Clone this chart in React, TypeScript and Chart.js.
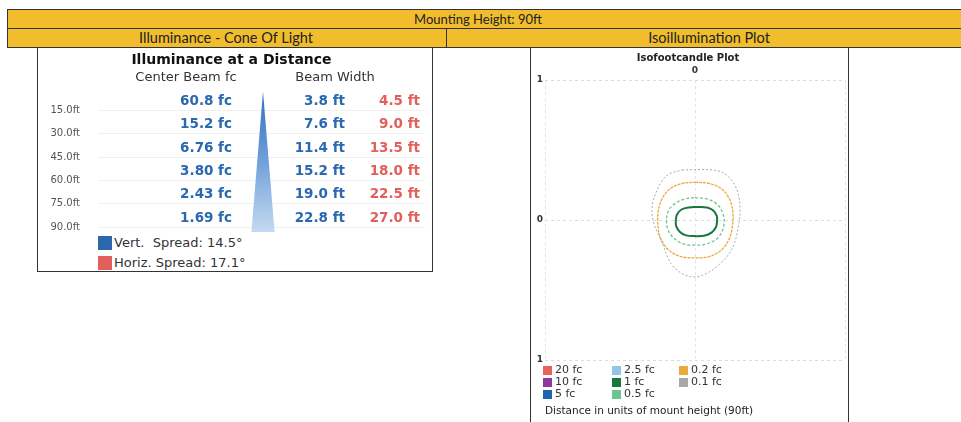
import React, { useEffect, useRef } from 'react';
import { Chart, registerables } from 'chart.js';

Chart.register(...registerables);

// ---- Illuminance at a distance (left panel) ----
const distances = [15, 30, 45, 60, 75, 90];
const distanceLabels = ['15.0ft', '30.0ft', '45.0ft', '60.0ft', '75.0ft', '90.0ft'];
const centerBeamFc = [60.8, 15.2, 6.76, 3.8, 2.43, 1.69];
const vertBeamWidthFt = [3.8, 7.6, 11.4, 15.2, 19.0, 22.8];
const horizBeamWidthFt = [4.5, 9.0, 13.5, 18.0, 22.5, 27.0];
const coneDepthFt = [3, 93];
const coneWidthFt = [0, 23.2];
const vertSpreadDeg = 14.5;
const horizSpreadDeg = 17.1;

// ---- Isofootcandle plot (right panel), units of mount height ----
const isoLevels = ['20 fc', '10 fc', '5 fc', '2.5 fc', '1 fc', '0.5 fc', '0.2 fc', '0.1 fc'];
const isoColors = ['#e8625c', '#8e3a9c', '#1f62b0', '#93c6e4', '#16793b', '#6cc58e', '#eaa93c', '#a8a8a8'];
const contour1fc = [
  [0.01, 0.093], [0.08, 0.09], [0.12, 0.07], [0.145, 0.03], [0.147, -0.01], [0.14, -0.05],
  [0.11, -0.09], [0.06, -0.112], [0.0, -0.115], [-0.06, -0.11], [-0.1, -0.085], [-0.125, -0.045],
  [-0.128, 0.0], [-0.12, 0.04], [-0.09, 0.075], [-0.04, 0.09],
];
const contour05fc = [
  [0.0, 0.16], [0.08, 0.15], [0.15, 0.11], [0.185, 0.05], [0.195, -0.01], [0.185, -0.07],
  [0.15, -0.13], [0.08, -0.17], [0.0, -0.18], [-0.08, -0.17], [-0.14, -0.13], [-0.18, -0.07],
  [-0.19, 0.0], [-0.175, 0.07], [-0.13, 0.12], [-0.07, 0.15],
];
const contour02fc = [
  [0.0, 0.27], [0.1, 0.26], [0.18, 0.22], [0.23, 0.15], [0.252, 0.06], [0.25, -0.04],
  [0.23, -0.13], [0.18, -0.21], [0.1, -0.26], [0.0, -0.27], [-0.1, -0.26], [-0.18, -0.21],
  [-0.23, -0.13], [-0.247, -0.04], [-0.245, 0.06], [-0.22, 0.15], [-0.17, 0.22], [-0.09, 0.26],
];
const contour01fc = [
  [-0.087, 0.357], [0.02, 0.36], [0.12, 0.357], [0.2, 0.33], [0.27, 0.24], [0.3, 0.1],
  [0.29, -0.04], [0.25, -0.2], [0.17, -0.31], [0.08, -0.38], [0.0, -0.407], [-0.09, -0.38],
  [-0.16, -0.31], [-0.22, -0.16], [-0.28, 0.0], [-0.28, 0.13], [-0.22, 0.28], [-0.17, 0.33],
];

const YELLOW = '#f2bd2c';
const BLUE = '#2a68b0';
const RED = '#e2605b';

const closed = (pts: number[][]) => [...pts, pts[0]].map(([x, y]) => ({ x, y }));

function ConeChart() {
  const ref = useRef<HTMLCanvasElement>(null);
  useEffect(() => {
    const conePts = [
      { x: 0, y: coneDepthFt[0] },
      { x: coneWidthFt[1] / 2, y: coneDepthFt[1] },
      { x: -coneWidthFt[1] / 2, y: coneDepthFt[1] },
      { x: 0, y: coneDepthFt[0] },
    ];
    const tablePlugin = {
      id: 'tableText',
      afterDatasetsDraw(chart: any) {
        const { ctx, scales, chartArea } = chart;
        const x = scales.x;
        const y = scales.y;
        ctx.save();
        ctx.textBaseline = 'middle';
        ctx.textAlign = 'center';
        ctx.fillStyle = '#333';
        ctx.font = '13px "DejaVu Sans"';
        ctx.fillText('Center Beam fc', x.getPixelForValue(-77), chartArea.top - 9);
        ctx.fillText('Beam Width', x.getPixelForValue(72), chartArea.top - 9);
        ctx.font = 'bold 13.5px "DejaVu Sans"';
        ctx.textAlign = 'right';
        distances.forEach((d, i) => {
          const py = y.getPixelForValue(d) - 9;
          ctx.fillStyle = BLUE;
          ctx.fillText(`${centerBeamFc[i].toPrecision(3)} fc`, x.getPixelForValue(-31), py);
          ctx.fillText(`${vertBeamWidthFt[i].toFixed(1)} ft`, x.getPixelForValue(82), py);
          ctx.fillStyle = RED;
          ctx.fillText(`${horizBeamWidthFt[i].toFixed(1)} ft`, x.getPixelForValue(157), py);
        });
        ctx.restore();
      },
    };
    const chart = new Chart(ref.current!, {
      type: 'scatter',
      data: {
        datasets: [
          {
            label: 'cone',
            data: conePts,
            showLine: true,
            borderWidth: 0,
            pointRadius: 0,
            fill: 'shape',
            backgroundColor: (c: any) => {
              const { chart: ch } = c;
              const area = ch.chartArea;
              if (!area) return '#7aa9dc';
              const g = ch.ctx.createLinearGradient(0, area.top, 0, area.bottom);
              g.addColorStop(0, '#2e6cbd');
              g.addColorStop(0.5, '#6e9fd8');
              g.addColorStop(1, '#c4daf1');
              return g;
            },
          } as any,
        ],
      },
      options: {
        animation: false,
        responsive: false,
        maintainAspectRatio: false,
        layout: { padding: { left: 0, right: 7, top: 0, bottom: 3 } },
        plugins: {
          legend: { display: false },
          tooltip: { enabled: false },
          title: {
            display: true,
            text: 'Illuminance at a Distance',
            color: '#111',
            font: { family: 'DejaVu Sans', size: 14, weight: 'bold' },
            padding: { top: 3, bottom: 18 },
          },
        },
        scales: {
          x: { type: 'linear', display: false, min: -165, max: 162 },
          y: {
            type: 'linear',
            reverse: true,
            min: 0,
            max: 93,
            afterBuildTicks: (s: any) => {
              s.ticks = distances.map((v) => ({ value: v }));
            },
            afterFit: (s: any) => {
              s.width = 60;
              s.paddingTop = 0;
              s.paddingBottom = 0;
            },
            border: { display: false },
            grid: { color: '#f0f0f0', drawTicks: false },
            ticks: {
              padding: 18,
              color: '#555',
              font: { family: 'DejaVu Sans', size: 10 },
              callback: (_v: any, i: number) => distanceLabels[i],
            },
          },
        },
      },
      plugins: [tablePlugin],
    });
    return () => chart.destroy();
  }, []);
  return <canvas ref={ref} width={394} height={186} style={{ position: 'absolute', left: 38, top: 49 }} />;
}

function IsoChart() {
  const ref = useRef<HTMLCanvasElement>(null);
  useEffect(() => {
    const contourSets: [string, number[][], number, number[]][] = [
      ['0.1 fc', contour01fc, 1, [2, 2]],
      ['0.2 fc', contour02fc, 1.3, [3, 1]],
      ['0.5 fc', contour05fc, 1.3, [3, 2]],
      ['1 fc', contour1fc, 2, []],
    ];
    const chart = new Chart(ref.current!, {
      type: 'scatter',
      data: {
        datasets: contourSets.map(([lvl, pts, w, dash]) => ({
          label: lvl,
          data: closed(pts),
          showLine: true,
          tension: 0.35,
          pointRadius: 0,
          borderColor: isoColors[isoLevels.indexOf(lvl)],
          borderWidth: w,
          borderDash: dash,
          fill: false,
        })) as any,
      },
      options: {
        animation: false,
        responsive: false,
        maintainAspectRatio: false,
        layout: { padding: { left: 0, right: 2, top: 0, bottom: 9 } },
        plugins: {
          legend: { display: false },
          tooltip: { enabled: false },
          title: {
            display: true,
            text: 'Isofootcandle Plot',
            color: '#222',
            font: { family: 'DejaVu Sans', size: 10, weight: 'bold' },
            padding: { top: 3, bottom: 0 },
          },
        },
        scales: {
          x: {
            type: 'linear',
            position: 'top',
            min: -1,
            max: 1,
            afterBuildTicks: (s: any) => {
              s.ticks = [-1, 0, 1].map((v) => ({ value: v }));
            },
            afterFit: (s: any) => {
              s.height = 16;
              s.paddingLeft = 0;
              s.paddingRight = 0;
            },
            border: { display: false, dash: [3, 3] },
            grid: { color: '#e3e3e3', drawTicks: false },
            ticks: {
              padding: 4,
              color: '#333',
              font: { family: 'DejaVu Sans', size: 9, weight: 'bold' },
              callback: (v: any) => (Number(v) === 0 ? '0' : ''),
            },
          },
          y: {
            type: 'linear',
            min: -1,
            max: 1,
            afterBuildTicks: (s: any) => {
              s.ticks = [-1, 0, 1].map((v) => ({ value: v }));
            },
            afterFit: (s: any) => {
              s.width = 14;
              s.paddingTop = 0;
              s.paddingBottom = 0;
            },
            border: { display: false, dash: [3, 3] },
            grid: { color: '#dcdcdc', drawTicks: false },
            ticks: {
              padding: 2,
              color: '#333',
              font: { family: 'DejaVu Sans', size: 9, weight: 'bold' },
              callback: (v: any) => String(Math.abs(Number(v))),
            },
          },
        },
      },
    });
    return () => chart.destroy();
  }, []);
  return <canvas ref={ref} width={316} height={320} style={{ position: 'absolute', left: 531, top: 49 }} />;
}

export default function App() {
  const headerFont = 'Lato, "Open Sans", sans-serif';
  const legendCols = [543, 612, 679];
  const legendRows = [370, 382, 394];
  return (
    <div
      style={{
        position: 'fixed',
        left: 0,
        top: 0,
        width: 961,
        height: 422,
        background: '#fff',
        overflow: 'hidden',
        fontFamily: '"DejaVu Sans", sans-serif',
      }}
    >
      {/* header bars */}
      <div style={{ position: 'absolute', left: 7, top: 9, width: 970, height: 20, background: YELLOW, border: '1px solid #333', boxSizing: 'border-box' }} />
      <div style={{ position: 'absolute', left: 7, top: 28, width: 440, height: 20, background: YELLOW, border: '1px solid #333', boxSizing: 'border-box' }} />
      <div style={{ position: 'absolute', left: 446, top: 28, width: 530, height: 20, background: YELLOW, border: '1px solid #333', boxSizing: 'border-box' }} />
      <div style={{ position: 'absolute', left: 378, top: 9, width: 200, height: 20, lineHeight: '20px', textAlign: 'center', fontFamily: headerFont, fontSize: 13, color: '#222' }}>
        Mounting Height: 90ft
      </div>
      <div style={{ position: 'absolute', left: 76, top: 28, width: 300, height: 20, lineHeight: '20px', textAlign: 'center', fontFamily: headerFont, fontSize: 14.5, color: '#222' }}>
        Illuminance - Cone Of Light
      </div>
      <div style={{ position: 'absolute', left: 559, top: 28, width: 300, height: 20, lineHeight: '20px', textAlign: 'center', fontFamily: headerFont, fontSize: 14.5, color: '#222' }}>
        Isoillumination Plot
      </div>

      {/* left panel */}
      <div style={{ position: 'absolute', left: 37, top: 47, width: 396, height: 225, borderLeft: '1px solid #333', borderRight: '1px solid #333', borderBottom: '1px solid #333', boxSizing: 'border-box' }} />
      <ConeChart />
      {[
        { c: BLUE, t: `Vert.\u00a0 Spread: ${vertSpreadDeg.toFixed(1)}°`, top: 236 },
        { c: RED, t: `Horiz. Spread: ${horizSpreadDeg.toFixed(1)}°`, top: 256 },
      ].map((it) => (
        <div key={it.t} style={{ position: 'absolute', left: 98, top: it.top, height: 14, display: 'flex', alignItems: 'center' }}>
          <div style={{ width: 14, height: 14, background: it.c }} />
          <span style={{ marginLeft: 2, fontSize: 13, color: '#333', lineHeight: '14px' }}>{it.t}</span>
        </div>
      ))}

      {/* right panel */}
      <div style={{ position: 'absolute', left: 530, top: 47, width: 319, height: 390, borderLeft: '1px solid #333', borderRight: '1px solid #333', boxSizing: 'border-box' }} />
      <IsoChart />
      {isoLevels.map((lvl, i) => (
        <div
          key={lvl}
          style={{
            position: 'absolute',
            left: legendCols[Math.floor(i / 3)],
            top: legendRows[i % 3] - 6,
            height: 12,
            display: 'flex',
            alignItems: 'center',
          }}
        >
          <div style={{ width: 9, height: 9, background: isoColors[i] }} />
          <span style={{ marginLeft: 3, fontSize: 11, color: '#333', lineHeight: '12px' }}>{lvl}</span>
        </div>
      ))}
      <div style={{ position: 'absolute', left: 545, top: 403, fontSize: 10.5, color: '#222', lineHeight: '14px', whiteSpace: 'nowrap' }}>
        Distance in units of mount height (90ft)
      </div>
    </div>
  );
}
